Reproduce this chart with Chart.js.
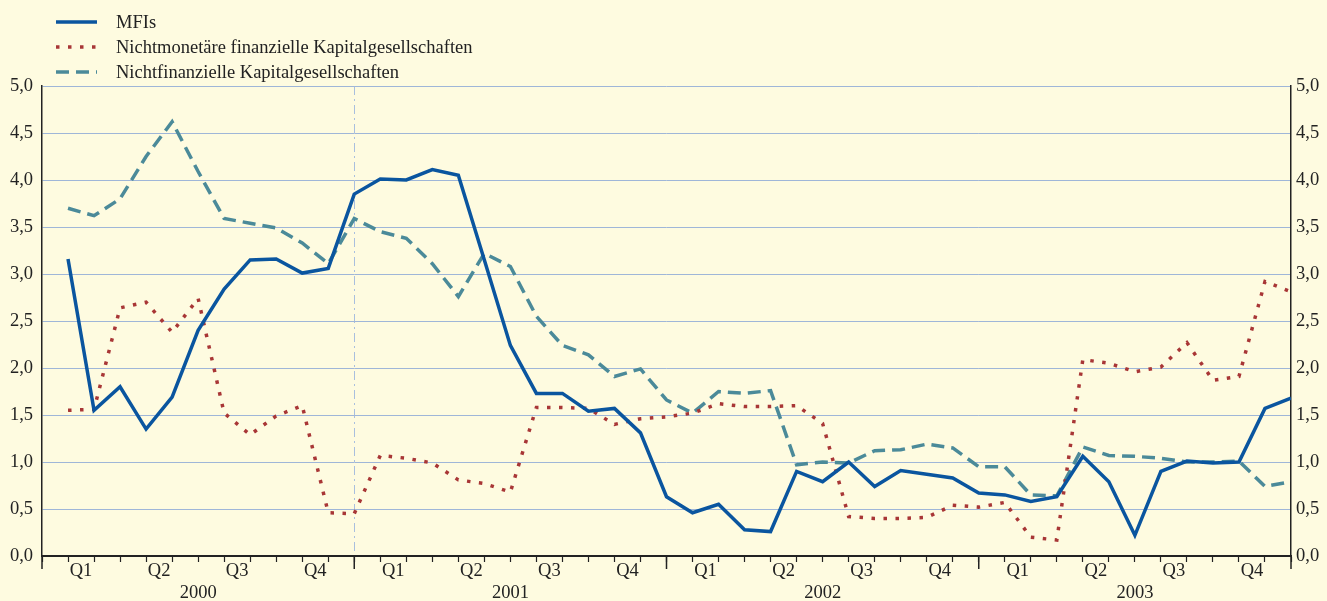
<!DOCTYPE html>
<html>
<head>
<meta charset="utf-8">
<script src="https://cdn.jsdelivr.net/npm/chart.js@4.4.1/dist/chart.umd.min.js"></script>
<style>
  html, body { margin: 0; padding: 0; background: #fefbe0; }
  #wrap { position: relative; width: 1327px; height: 601px; }
</style>
</head>
<body>
<div id="wrap"><canvas id="lineChart"></canvas></div>
<script>
// Axis labels
const years = ['2000', '2001', '2002', '2003'];
const quarters = ['Q1', 'Q2', 'Q3', 'Q4'];
const yTicks = [0, 0.5, 1, 1.5, 2, 2.5, 3, 3.5, 4, 4.5, 5];

// Monthly values, Jan 2000 - Dec 2003
const mfi = [
  3.16, 1.55, 1.80, 1.35, 1.69, 2.40, 2.84, 3.15, 3.16, 3.01, 3.06, 3.85,
  4.01, 4.00, 4.11, 4.05, 3.15, 2.24, 1.73, 1.73, 1.54, 1.57, 1.31, 0.63,
  0.46, 0.55, 0.28, 0.26, 0.90, 0.79, 1.00, 0.74, 0.91, 0.87, 0.83, 0.67,
  0.65, 0.58, 0.63, 1.06, 0.79, 0.22, 0.90, 1.01, 0.99, 1.00, 1.57, 1.68
];
const nichtmonetaer = [
  1.55, 1.56, 2.64, 2.70, 2.38, 2.74, 1.52, 1.29, 1.49, 1.60, 0.46, 0.45,
  1.07, 1.04, 0.99, 0.81, 0.77, 0.68, 1.58, 1.58, 1.57, 1.40, 1.46, 1.48,
  1.52, 1.62, 1.59, 1.59, 1.60, 1.41, 0.42, 0.40, 0.40, 0.41, 0.54, 0.52,
  0.57, 0.20, 0.17, 2.09, 2.05, 1.96, 2.01, 2.27, 1.87, 1.91, 2.92, 2.81
];
const nichtfinanziell = [
  3.70, 3.62, 3.80, 4.25, 4.62, 4.09, 3.59, 3.54, 3.49, 3.33, 3.11, 3.59,
  3.45, 3.38, 3.11, 2.76, 3.22, 3.08, 2.55, 2.24, 2.14, 1.91, 1.99, 1.66,
  1.52, 1.75, 1.73, 1.76, 0.97, 1.00, 0.99, 1.12, 1.13, 1.19, 1.15, 0.95,
  0.95, 0.65, 0.64, 1.16, 1.07, 1.06, 1.04, 1.00, 1.00, 1.01, 0.74, 0.79
];

const serif = '"Liberation Serif", "DejaVu Serif", serif';
const toPoints = arr => arr.map((v, i) => ({ x: i + 1, y: v }));
const fmt = v => v.toFixed(1).replace('.', ',');

// Legend drawn one item per row, top left
const rowLegend = {
  id: 'rowLegend',
  afterDraw(chart) {
    const c = chart.ctx;
    chart.data.datasets.forEach((ds, i) => {
      const y = 22 + i * 25;
      c.save();
      c.strokeStyle = ds.borderColor;
      c.lineWidth = ds.borderWidth;
      c.setLineDash(ds.borderDash || []);
      c.beginPath();
      c.moveTo(56, y);
      c.lineTo(97, y);
      c.stroke();
      c.setLineDash([]);
      c.fillStyle = '#222';
      c.font = '18.5px ' + serif;
      c.textBaseline = 'middle';
      c.fillText(ds.label, 116, y + 1);
      c.restore();
    });
  }
};

// Longer tick marks at year boundaries
const yearTicks = {
  id: 'yearTicks',
  afterDraw(chart) {
    const xs = chart.scales.x;
    const c = chart.ctx;
    const bottom = chart.chartArea.bottom;
    c.save();
    c.strokeStyle = '#222';
    c.lineWidth = 1.5;
    for (let v = 0; v <= 48; v += 12) {
      const px = xs.getPixelForValue(v);
      c.beginPath();
      c.moveTo(px, bottom);
      c.lineTo(px, bottom + 13);
      c.stroke();
    }
    c.restore();
  }
};

const ctx = document.getElementById('lineChart').getContext('2d');

const data = {
  datasets: [
    {
      label: 'MFIs',
      data: toPoints(mfi),
      borderColor: '#0a559f',
      borderWidth: 3.5,
      pointRadius: 0,
      tension: 0,
      yAxisID: 'y',
    },
    {
      label: 'Nichtmonetäre finanzielle Kapitalgesellschaften',
      data: toPoints(nichtmonetaer),
      borderColor: '#a83636',
      borderWidth: 3.5,
      borderDash: [3.5, 8.5],
      borderCapStyle: 'butt',
      pointRadius: 0,
      tension: 0,
      yAxisID: 'y',
    },
    {
      label: 'Nichtfinanzielle Kapitalgesellschaften',
      data: toPoints(nichtfinanziell),
      borderColor: '#4b8a99',
      borderWidth: 3.5,
      borderDash: [13, 7],
      pointRadius: 0,
      tension: 0,
      yAxisID: 'y',
    },
  ],
};

const yScale = (pos) => ({
  type: 'linear',
  position: pos,
  min: 0,
  max: 5,
  afterBuildTicks: s => { s.ticks = yTicks.map(v => ({ value: v })); },
  afterFit: s => { s.width = pos === 'left' ? 42 : 36; },
  ticks: {
    color: '#222',
    font: { family: serif, size: 18.5 },
    padding: pos === 'left' ? 9 : 5,
    callback: v => fmt(v),
  },
  grid: {
    display: pos === 'left',
    drawTicks: false,
    color: '#9fb6d8',
    lineWidth: 1,
  },
  border: { display: true, color: '#222', width: 1.5 },
});

const config = {
  type: 'line',
  data: data,
  options: {
    responsive: true,
    maintainAspectRatio: false,
    animation: false,
    layout: { padding: { top: 86, left: 0, right: 0, bottom: 0 } },
    plugins: {
      legend: { display: false },
      tooltip: { enabled: false },
    },
    scales: {
      x: {
        type: 'linear',
        min: 0,
        max: 48,
        afterFit: s => { s.height = 45; },
        ticks: {
          stepSize: 0.5,
          autoSkip: false,
          maxRotation: 0,
          padding: -2,
          color: '#222',
          font: { family: serif, size: 18.5, lineHeight: 1.2 },
          callback: v => {
            if (v % 3 === 1.5) return quarters[((v - 1.5) / 3) % 4];
            if (v % 12 === 6) return ['', years[(v - 6) / 12]];
            return '';
          },
        },
        grid: {
          drawOnChartArea: true,
          tickLength: 6,
          lineWidth: 1,
          color: c => (c.tick && c.tick.value === 12) ? '#a9bfde' : 'rgba(0,0,0,0)',
          tickColor: c => (c.tick && c.tick.value % 1 === 0) ? '#222' : 'rgba(0,0,0,0)',
          tickWidth: 1.2,
        },
        border: {
          display: true,
          color: '#222',
          width: 2,
          dash: c => (c.tick && c.tick.value === 12) ? [9, 4, 2, 4] : [],
        },
      },
      y: yScale('left'),
      y2: yScale('right'),
    },
  },
  plugins: [rowLegend, yearTicks],
};

const lineChart = new Chart(ctx, config);
</script>
</body>
</html>
